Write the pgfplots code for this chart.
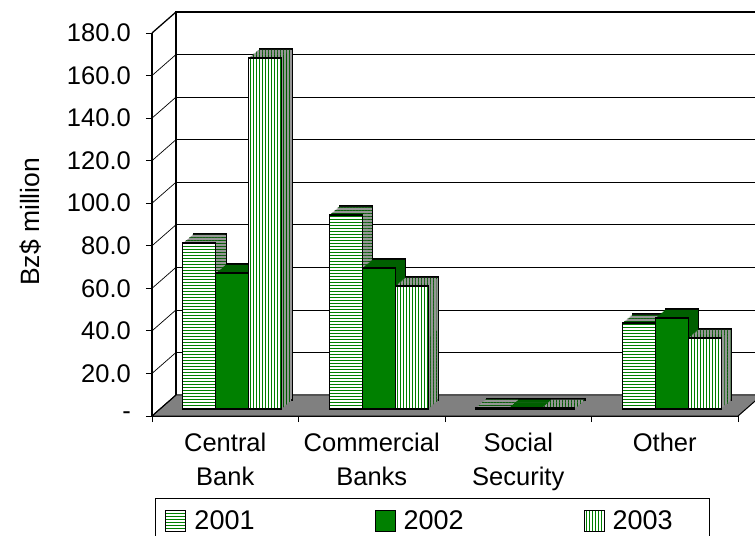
\documentclass[border=0pt]{standalone}
\usepackage{pgfplots}
\pgfplotsset{compat=1.18}
\usepackage{pgfplotstable}
\usepackage{fontspec}
\setmainfont{Liberation Sans}
\usetikzlibrary{patterns}

\pgfdeclarepatternformonly{hstripes}{\pgfqpoint{-1bp}{-1bp}}{\pgfqpoint{4bp}{4bp}}{\pgfqpoint{3bp}{3bp}}{%
  \pgfsetlinewidth{1.4bp}\pgfpathmoveto{\pgfqpoint{-1bp}{1.5bp}}\pgfpathlineto{\pgfqpoint{4bp}{1.5bp}}\pgfusepath{stroke}}
\pgfdeclarepatternformonly{vstripes}{\pgfqpoint{-1bp}{-1bp}}{\pgfqpoint{4bp}{4bp}}{\pgfqpoint{3bp}{3bp}}{%
  \pgfsetlinewidth{1.4bp}\pgfpathmoveto{\pgfqpoint{1.5bp}{-1bp}}\pgfpathlineto{\pgfqpoint{1.5bp}{4bp}}\pgfusepath{stroke}}

\definecolor{g1}{RGB}{0,128,0}
\definecolor{gdark}{RGB}{0,95,0}
\definecolor{gstripe}{RGB}{0,90,0}
\definecolor{floorgray}{RGB}{128,128,128}
\definecolor{extbg}{RGB}{150,150,150}

\pgfplotstableread{
x y01 y02 y03
0 78.0 63.9 165.0
1 91.2 66.3 57.8
2 0.6 0.6 0.6
3 40.4 42.8 33.4
}\data

\pgfplotsset{
  barA/.style={ybar, bar width=0.225, bar shift=-0.225},
  barB/.style={ybar, bar width=0.225, bar shift=0},
  barC/.style={ybar, bar width=0.225, bar shift=0.225},
  extA/.style={barA, forget plot, draw=none, fill=extbg, postaction={pattern=hstripes, pattern color=gstripe}},
  extB/.style={barB, forget plot, draw=none, fill=gdark},
  extC/.style={barC, forget plot, draw=none, fill=extbg, postaction={pattern=vstripes, pattern color=gstripe}},
}
\tikzset{wall/.style={black, line width=0.7bp}}

\begin{document}
\begin{tikzpicture}
\path[use as bounding box] (0,0) rectangle (755bp,536bp);
\begin{axis}[
  at={(152bp,120bp)}, anchor=south west,
  scale only axis, width=586bp, height=383bp,
  xmin=-0.5, xmax=3.5, ymin=0, ymax=180,
  clip=false,
  axis x line*=bottom, axis y line*=left,
  axis line style={black, line width=1.3bp},
  tick align=outside,
  major tick length=6bp, minor tick length=6bp,
  ytick={0,20,...,180},
  yticklabels={-,20.0,40.0,60.0,80.0,100.0,120.0,140.0,160.0,180.0},
  yticklabel style={font=\fontsize{25.5bp}{28bp}\selectfont, anchor=east, inner sep=0bp, xshift=-15bp},
  ytick style={black, line width=0.8bp},
  xtick={0,1,2,3},
  xticklabels={{Central\\Bank},{Commercial\\Banks},{Social\\Security},{Other}},
  xticklabel style={font=\fontsize{25.5bp}{34bp}\selectfont, align=center, anchor=north, inner sep=0bp, yshift=-11bp},
  major x tick style={draw=none},
  minor xtick={-0.5,0.5,1.5,2.5,3.5},
  minor x tick style={black, line width=0.8bp},
  ylabel={Bz\$ million},
  ylabel style={at={(axis description cs:-0.208,0.507)}, anchor=center, font=\fontsize{26.5bp}{30bp}\selectfont},
  legend columns=3,
  legend image code/.code={\draw[#1] (0bp,-10bp) rectangle (20bp,10bp);},
  legend style={at={(axis description cs:0.0051,-0.2141)}, anchor=north west, draw=black, line width=1bp,
    inner xsep=10bp, inner ysep=12bp, font=\fontsize{27bp}{30bp}\selectfont,
    nodes={inner sep=0bp},
    /tikz/every odd column/.append style={column sep=8bp},
    /tikz/every even column/.append style={column sep=120bp}},
  legend cell align=left,
]
% floor
\filldraw[fill=floorgray, draw=black, line width=1bp] (axis cs:-0.5,0) -- (axis cs:3.5,0) -- ([shift={(24bp,21bp)}]axis cs:3.5,0) -- ([shift={(24bp,21bp)}]axis cs:-0.5,0) -- cycle;
% back wall grid and left wall diagonals
\pgfplotsinvokeforeach{20,40,60,80,100,120,140,160}{
  \draw[wall] ([shift={(24bp,21bp)}]axis cs:-0.5,#1) -- ([shift={(24bp,21bp)}]axis cs:3.6,#1);
  \draw[wall] (axis cs:-0.5,#1) -- ([shift={(24bp,21bp)}]axis cs:-0.5,#1);
}
\draw[black, line width=1.3bp] ([shift={(24bp,21bp)}]axis cs:-0.5,0) -- ([shift={(24bp,21bp)}]axis cs:-0.5,180) -- ([shift={(24bp,21bp)}]axis cs:3.6,180);
\draw[black, line width=1.3bp] (axis cs:-0.5,180) -- ([shift={(24bp,21bp)}]axis cs:-0.5,180);
\draw[black, line width=1bp] (axis cs:-0.5,0) -- ([shift={(24bp,21bp)}]axis cs:-0.5,0);

% extrusions (back copy outlined)
\addplot[extA, draw=black, line width=1.2bp, xshift=17.5bp, yshift=16bp] table[x=x,y=y01]{\data};
\addplot[extB, draw=black, line width=1.2bp, xshift=17.5bp, yshift=16bp] table[x=x,y=y02]{\data};
\addplot[extC, draw=black, line width=1.2bp, xshift=17.5bp, yshift=16bp] table[x=x,y=y03]{\data};
\pgfplotsinvokeforeach{9,8,7,6,5,4,3,2,1}{
  \addplot[extA, xshift={7bp+1.05bp*#1}, yshift={7bp+0.9bp*#1}] table[x=x,y=y01]{\data};
  \addplot[extB, xshift={7bp+1.05bp*#1}, yshift={7bp+0.9bp*#1}] table[x=x,y=y02]{\data};
  \addplot[extC, xshift={7bp+1.05bp*#1}, yshift={7bp+0.9bp*#1}] table[x=x,y=y03]{\data};
}
% front faces
\addplot[barA, forget plot, xshift=7bp, yshift=7bp, draw=black, line width=1.3bp, preaction={fill=white}, pattern=hstripes, pattern color=g1] table[x=x,y=y01]{\data};
\addplot[barB, forget plot, xshift=7bp, yshift=7bp, draw=black, line width=1.3bp, fill=g1] table[x=x,y=y02]{\data};
\addplot[barC, forget plot, xshift=7bp, yshift=7bp, draw=black, line width=1.3bp, preaction={fill=white}, pattern=vstripes, pattern color=g1] table[x=x,y=y03]{\data};

\addlegendimage{draw=black, line width=1bp, preaction={fill=white}, pattern=hstripes, pattern color=g1}
\addlegendentry{2001}
\addlegendimage{draw=black, line width=1bp, fill=g1}
\addlegendentry{2002}
\addlegendimage{draw=black, line width=1bp, preaction={fill=white}, pattern=vstripes, pattern color=g1}
\addlegendentry{2003\hspace*{27bp}}
\end{axis}
\end{tikzpicture}
\end{document}
